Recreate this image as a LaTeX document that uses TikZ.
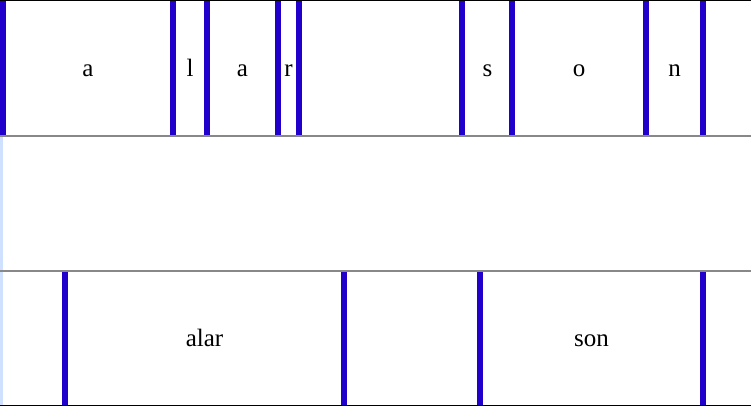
\documentclass[tikz,border=0pt]{standalone}
\usepackage{fontspec}
\setmainfont{Liberation Serif}
\usepackage{xcolor}
\usepackage{tikz}
\usetikzlibrary{positioning}
\usetikzlibrary{calc}
\definecolor{barblue}{RGB}{34,0,204}
\definecolor{paleblue}{RGB}{208,224,255}
\definecolor{rulegray}{RGB}{136,136,136}
\tikzset{bar/.style={rectangle, fill=barblue, inner sep=0pt, minimum width=6pt}}
\tikzset{glyph/.style={anchor=base, inner sep=0pt, font=\fontsize{25}{25}\selectfont}}
\tikzset{rule/.style={rulegray, line width=2pt}}

\begin{document}
\begin{tikzpicture}[x=1pt, y=-1pt]
\useasboundingbox (0,0) rectangle (751,407);
\fill[paleblue] (0,137) rectangle (3,405);

% characters
\node[bar, minimum height=134pt] (c0) at (3,68) {};
\node[bar, minimum height=134pt] (c1) at (173,68) {};
\node[bar, minimum height=134pt] (c2) at (207,68) {};
\node[bar, minimum height=134pt] (c3) at (278,68) {};
\node[bar, minimum height=134pt] (c4) at (299,68) {};
\node[bar, minimum height=134pt] (c5) at (462,68) {};
\node[bar, minimum height=134pt] (c6) at (512,68) {};
\node[bar, minimum height=134pt] (c7) at (646,68) {};
\node[bar, minimum height=134pt] (c8) at (703,68) {};

\node[glyph] (ch1) at (88,76) {a};
\node[glyph] (ch2) at (190,76) {l};
\node[glyph] (ch3) at (242.5,76) {a};
\node[glyph] (ch4) at (288.5,76) {r};
\node[glyph] (ch5) at (487.5,76) {s};
\node[glyph] (ch6) at (579,76) {o};
\node[glyph] (ch7) at (674.5,76) {n};

% words
\node[bar, minimum height=133pt] (w0) at (65,338.5) {};
\node[bar, minimum height=133pt] (w1) at (344,338.5) {};
\node[bar, minimum height=133pt] (w2) at (480,338.5) {};
\node[bar, minimum height=133pt] (w3) at (703,338.5) {};

\node[glyph] (wd1) at (204.5,346) {alar};
\node[glyph] (wd2) at (591.5,346) {son};

\draw[black, line width=1pt] (0,0.5) -- (751,0.5);
\draw[rule] (0,136) -- (751,136);
\draw[rule] (0,271) -- (751,271);
\draw[black, line width=1pt] (0,405.5) -- (751,405.5);
\end{tikzpicture}
\end{document}
